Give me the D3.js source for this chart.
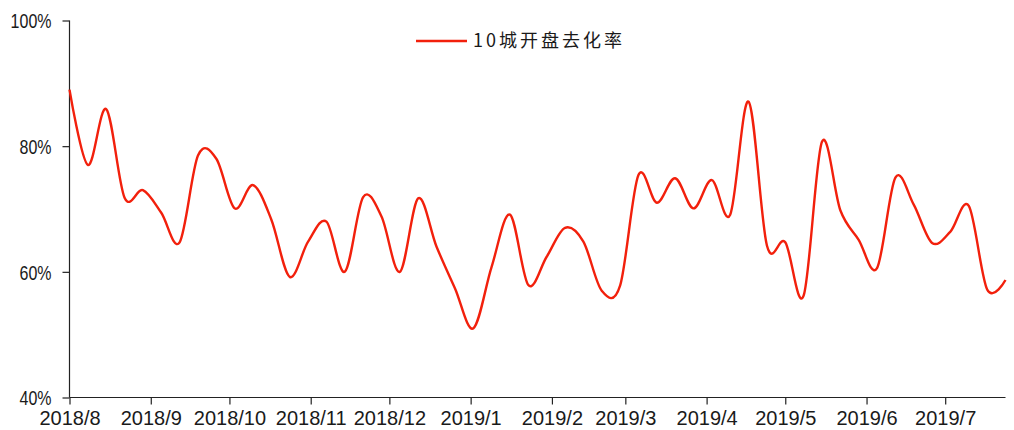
<!DOCTYPE html>
<html lang="zh">
<head>
<meta charset="UTF-8">
<title>10城开盘去化率</title>
<script src="https://cdnjs.cloudflare.com/ajax/libs/d3/7.8.5/d3.min.js"></script>
<style>
    html, body { margin: 0; padding: 0; background: #fff; }
    svg text { fill: #1a1a1a; }
    .axis text { font-family: "Liberation Sans", Arial, sans-serif; font-size: 20px; }
    .axis.y text { font-size: 16px; }
    .legend text { font-family: "Noto Sans CJK SC", sans-serif; font-size: 18px; letter-spacing: 3px; }
</style>
</head>
<body>
<div id="chart"></div>
<script>
// weekly observation dates
var dates = [
    "2018-08-01", "2018-08-08", "2018-08-15", "2018-08-22", "2018-08-29",
    "2018-09-05", "2018-09-12", "2018-09-19", "2018-09-26",
    "2018-10-03", "2018-10-10", "2018-10-17", "2018-10-24", "2018-10-31",
    "2018-11-07", "2018-11-14", "2018-11-21", "2018-11-28",
    "2018-12-05", "2018-12-12", "2018-12-19", "2018-12-26",
    "2019-01-02", "2019-01-09", "2019-01-16", "2019-01-23", "2019-01-30",
    "2019-02-06", "2019-02-13", "2019-02-20", "2019-02-27",
    "2019-03-06", "2019-03-13", "2019-03-20", "2019-03-27",
    "2019-04-03", "2019-04-10", "2019-04-17", "2019-04-24",
    "2019-05-01", "2019-05-08", "2019-05-15", "2019-05-22", "2019-05-29",
    "2019-06-05", "2019-06-12", "2019-06-19", "2019-06-26",
    "2019-07-03", "2019-07-10", "2019-07-17", "2019-07-24"
];

// 10城开盘去化率 (%)
var rate = [
    89.0, 77.0, 85.9, 71.8, 73.0,
    69.4, 64.7, 78.5, 78.0,
    70.1, 73.8, 68.3, 59.2, 64.8,
    68.0, 60.0, 71.9, 68.8,
    60.0, 71.7, 64.0, 57.4,
    51.0, 60.8, 69.1, 57.9, 62.4,
    67.0, 64.8, 57.0, 57.8,
    75.4, 71.0, 74.9, 70.1,
    74.6, 69.1, 87.1, 64.2,
    64.7, 56.2, 80.7, 69.8, 65.1,
    60.6, 75.0, 70.7, 64.6,
    66.4, 70.5, 57.2, 58.7
];

var seriesName = "10城开盘去化率";
var yTicks = [40, 60, 80, 100];
var xTickMonths = [
    "2018-08-01", "2018-09-01", "2018-10-01", "2018-11-01", "2018-12-01", "2019-01-01",
    "2019-02-01", "2019-03-01", "2019-04-01", "2019-05-01", "2019-06-01", "2019-07-01"
];

var width = 1014, height = 430;
var margin = {top: 20.5, right: 8.5, bottom: 32.5, left: 69.5};

var parse = d3.timeParse("%Y-%m-%d");
var data = dates.map(function(d, i) { return {date: parse(d), value: rate[i]}; });

var svg = d3.select("#chart").append("svg")
    .attr("width", width)
    .attr("height", height);

var x = d3.scaleTime()
    .domain([data[0].date, data[data.length - 1].date])
    .range([margin.left, width - margin.right]);

var y = d3.scaleLinear()
    .domain([40, 100])
    .range([height - margin.bottom, margin.top]);

// y axis
var yAxis = svg.append("g")
    .attr("class", "axis y")
    .attr("transform", "translate(" + margin.left + ",0)")
    .call(d3.axisLeft(y).tickValues(yTicks).tickSize(7).tickPadding(11)
        .tickFormat(function(d) { return d + "%"; }));

// labels in the reference are tall and narrow
yAxis.selectAll(".tick text")
    .attr("dy", "0.36em")
    .attr("transform", "scale(1,1.3)");

// x axis
var xAxis = svg.append("g")
    .attr("class", "axis x")
    .attr("transform", "translate(0," + (height - margin.bottom) + ")")
    .call(d3.axisBottom(x).tickValues(xTickMonths.map(parse)).tickSize(7).tickPadding(6)
        .tickFormat(d3.timeFormat("%Y/%-m")));

svg.selectAll(".axis .domain").attr("stroke", "#222").attr("stroke-width", 1.2);
svg.selectAll(".axis .tick line").attr("stroke", "#222").attr("stroke-width", 1.2);
yAxis.select(".domain").attr("d", "M0," + y(40) + "V" + y(100));
xAxis.select(".domain").attr("d", "M" + margin.left + ",0H" + (width - margin.right));

// line
var line = d3.line()
    .x(function(d) { return x(d.date); })
    .y(function(d) { return y(d.value); })
    .curve(d3.curveCardinal.tension(0));

svg.append("path")
    .datum(data)
    .attr("fill", "none")
    .attr("stroke", "#f2200c")
    .attr("stroke-width", 2.4)
    .attr("stroke-linejoin", "round")
    .attr("d", line);

// legend
var legend = svg.append("g").attr("class", "legend")
    .attr("transform", "translate(416,41)");

legend.append("line")
    .attr("x1", 0).attr("x2", 51)
    .attr("stroke", "#f2200c")
    .attr("stroke-width", 2.4);

legend.append("text")
    .attr("x", 57)
    .attr("dy", "0.35em")
    .text(seriesName);
</script>
</body>
</html>
